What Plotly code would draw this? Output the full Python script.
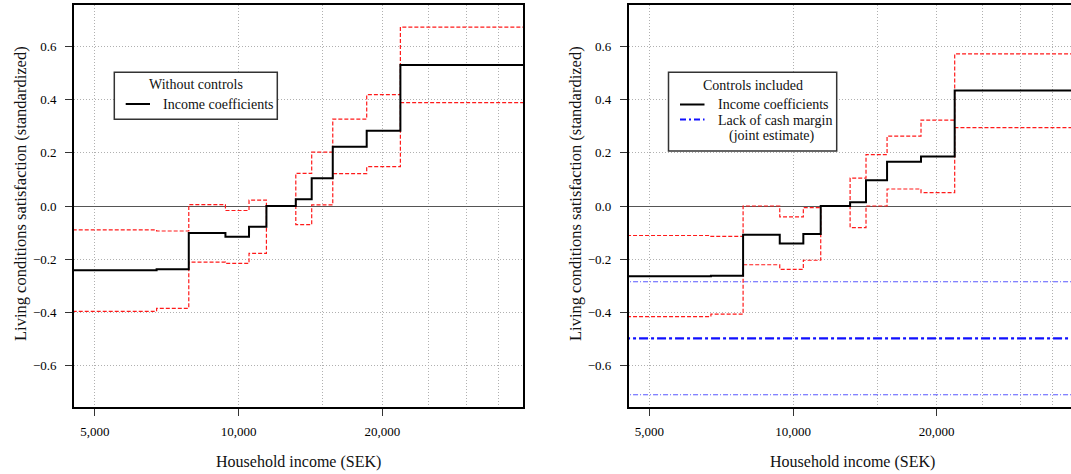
import plotly.graph_objects as go

W, H = 1071, 474

# ---------------- data ----------------
income_breaks = [6730, 7860, 9380, 10510, 11430, 13170, 14220, 15740, 18540, 21810]
income_span = [4000, 45000]

coef_nc = [-0.242, -0.238, -0.102, -0.116, -0.078, 0.0, 0.025, 0.104, 0.223, 0.283, 0.530]
upper_nc = [-0.090, -0.094, 0.005, -0.017, 0.022, 0.0, 0.123, 0.203, 0.327, 0.419, 0.673]
lower_nc = [-0.396, -0.385, -0.211, -0.216, -0.178, 0.0, -0.070, 0.004, 0.122, 0.148, 0.389]

coef_c = [-0.264, -0.262, -0.108, -0.141, -0.105, 0.0, 0.014, 0.097, 0.166, 0.186, 0.434]
upper_c = [-0.111, -0.114, 0.0, -0.041, -0.006, 0.0, 0.105, 0.193, 0.263, 0.323, 0.572]
lower_c = [-0.416, -0.407, -0.221, -0.238, -0.204, 0.0, -0.081, 0.0, 0.064, 0.050, 0.295]

margin_coef = -0.498
margin_upper = -0.285
margin_lower = -0.710

y_ticks = [-0.6, -0.4, -0.2, 0.0, 0.2, 0.4, 0.6]
x_ticks = [5000, 10000, 20000]
x_tick_labels = ["5,000", "10,000", "20,000"]
x_minor_grid = [15000, 25000, 30000, 35000]

FONT = "Liberation Serif"

# ---------------- helpers ----------------
def px(x):
    return x / W

def py(y):
    return 1 - y / H

step_x = [income_span[0]] + income_breaks + [income_span[1]]

def step_trace(vals, xa, ya, color, width, dash):
    return go.Scatter(x=step_x, y=vals + [vals[-1]], mode="lines", line_shape="hv",
                      line=dict(color=color, width=width, dash=dash),
                      xaxis=xa, yaxis=ya, showlegend=False, hoverinfo="skip")

def flat_trace(v, xa, ya, color, width, dash):
    return go.Scatter(x=income_span, y=[v, v], mode="lines",
                      line=dict(color=color, width=width, dash=dash),
                      xaxis=xa, yaxis=ya, showlegend=False, hoverinfo="skip")

RED = "#ff1a1a"
RED_DASH = "4px,2px"
GRID = "#b0b0b0"
GRID_DASH = "1px,2px"

fig = go.Figure()
# left panel
fig.add_trace(step_trace(upper_nc, "x", "y", RED, 1.2, RED_DASH))
fig.add_trace(step_trace(lower_nc, "x", "y", RED, 1.2, RED_DASH))
fig.add_trace(step_trace(coef_nc, "x", "y", "black", 2, "solid"))
# right panel
fig.add_trace(flat_trace(margin_upper, "x2", "y2", "rgba(60,60,255,0.85)", 1.1, "5px,2px,1px,2px"))
fig.add_trace(flat_trace(margin_lower, "x2", "y2", "rgba(60,60,255,0.85)", 1.1, "5px,2px,1px,2px"))
fig.add_trace(flat_trace(margin_coef, "x2", "y2", "#1010ff", 2.2, "9px,3px,3px,3px"))
fig.add_trace(step_trace(upper_c, "x2", "y2", RED, 1.2, RED_DASH))
fig.add_trace(step_trace(lower_c, "x2", "y2", RED, 1.2, RED_DASH))
fig.add_trace(step_trace(coef_c, "x2", "y2", "black", 2, "solid"))

ydom = [py(407), py(5)]

def xaxis_cfg(domain, rng, mirror):
    return dict(domain=domain, type="log", range=rng, anchor=None,
                tickmode="array", tickvals=x_ticks, ticktext=x_tick_labels,
                ticks="outside", ticklen=7, tickwidth=1.2, tickcolor="#333",
                tickfont=dict(family=FONT, size=13, color="black"),
                ticklabelstandoff=5,
                showgrid=True, gridcolor=GRID, griddash=GRID_DASH, gridwidth=1,
                minor=dict(tickmode="array", tickvals=x_minor_grid, showgrid=True,
                           gridcolor=GRID, griddash=GRID_DASH, gridwidth=1, ticks=""),
                showline=True, linecolor="black", linewidth=1.6, mirror=mirror,
                zeroline=False, fixedrange=True)

def yaxis_cfg(mirror):
    return dict(domain=ydom, range=[-0.756, 0.756],
                tickmode="array", tickvals=y_ticks, tickformat=".1f",
                ticks="outside", ticklen=7, tickwidth=1.2, tickcolor="#333",
                tickfont=dict(family=FONT, size=13, color="black"),
                ticklabelstandoff=6,
                showgrid=True, gridcolor=GRID, griddash=GRID_DASH, gridwidth=1,
                showline=True, linecolor="black", linewidth=1.6, mirror=mirror,
                zeroline=True, zerolinecolor="#555", zerolinewidth=1.2,
                fixedrange=True)

xa1 = xaxis_cfg([px(74), px(523)], [3.655, 4.5955], True)
xa1["anchor"] = "y"
xa2 = xaxis_cfg([px(628.7), 1.0], [3.6558, 4.5823], True)
xa2["anchor"] = "y2"
ya1 = yaxis_cfg(True)
ya1["anchor"] = "x"
ya2 = yaxis_cfg(False)
ya2["anchor"] = "x2"

shapes = []
annotations = []

def legend_box(x0, y0, x1, y1):
    shapes.append(dict(type="rect", xref="paper", yref="paper",
                       x0=px(x0), x1=px(x1), y0=py(y1), y1=py(y0),
                       line=dict(color="#333", width=1.5), fillcolor="white", layer="above"))

def text(x, y, s, size=14, anchor="center", angle=0):
    annotations.append(dict(xref="paper", yref="paper", x=px(x), y=py(y), text=s,
                            showarrow=False, xanchor=anchor, yanchor="middle",
                            textangle=angle,
                            font=dict(family=FONT, size=size, color="#111")))

def sample(x0, x1, y, color, width, dash):
    shapes.append(dict(type="line", xref="paper", yref="paper",
                       x0=px(x0), x1=px(x1), y0=py(y), y1=py(y),
                       line=dict(color=color, width=width, dash=dash), layer="above"))

# left legend
legend_box(114.3, 72.3, 277.3, 119.3)
text(195.8, 84.5, "Without controls")
sample(125.7, 150, 104, "black", 2, "solid")
text(161, 104.5, "Income coefficients", anchor="left")

# right legend
legend_box(668.5, 72.3, 836.7, 151)
text(752.7, 85, "Controls included")
sample(680, 704.5, 104.5, "black", 2, "solid")
text(716, 105, "Income coefficients", anchor="left")
sample(680, 704.5, 119.5, "#1010ff", 2, "6px,3px,2px,3px")
text(716, 120.5, "Lack of cash margin", anchor="left")
text(771, 136, "(joint estimate)")

# axis titles
text(298.5, 461.5, "Household income (SEK)", size=16)
text(852.8, 461.5, "Household income (SEK)", size=16)
text(20, 194, "Living conditions satisfaction (standardized)", size=16.5, angle=-90)
text(575, 194, "Living conditions satisfaction (standardized)", size=16.5, angle=-90)

fig.update_layout(width=W, height=H, margin=dict(l=0, r=0, t=0, b=0),
                  paper_bgcolor="white", plot_bgcolor="white",
                  xaxis=xa1, yaxis=ya1, xaxis2=xa2, yaxis2=ya2,
                  shapes=shapes, annotations=annotations, showlegend=False)

fig.write_html("out.html")
